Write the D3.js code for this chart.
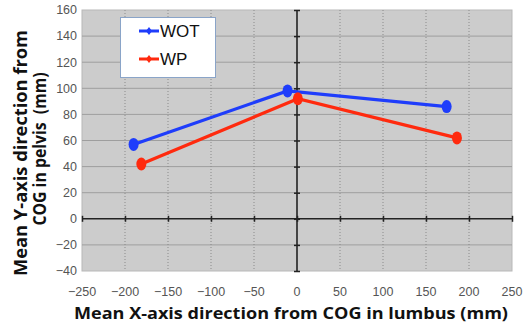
<!DOCTYPE html>
<html><head><meta charset="utf-8">
<script src="https://cdn.jsdelivr.net/npm/d3@7"></script>
<style>body{margin:0;background:#fff}svg{display:block}</style>
</head><body>
<script>
const seriesNames = ["WOT", "WP"];
const seriesColors = ["#1f3dfb", "#ff2a0e"];
const wotX = [-190, -11, 174];
const wotY = [57, 98, 86];
const wpX = [-181, 1, 186];
const wpY = [42, 92, 62];
const xTicks = [-250, -200, -150, -100, -50, 0, 50, 100, 150, 200, 250];
const yTicks = [-40, -20, 0, 20, 40, 60, 80, 100, 120, 140, 160];

const W = 531, H = 323;
const svg = d3.select("body").append("svg").attr("width", W).attr("height", H);
const x = d3.scaleLinear().domain([-250, 250]).range([82, 512]);
const y = d3.scaleLinear().domain([-40, 160]).range([271, 10]);

// plot background
svg.append("rect").attr("x", 82).attr("y", 10).attr("width", 430).attr("height", 261)
  .attr("fill", "#cccccc").attr("stroke", "#b8b8b8").attr("stroke-width", 1);

// horizontal grid
svg.append("g").selectAll("line").data(yTicks.filter(d => d !== 0 && d !== -40 && d !== 160)).join("line")
  .attr("x1", 82).attr("x2", 512).attr("y1", d => y(d)).attr("y2", d => y(d))
  .attr("stroke", "#9e9e9e").attr("stroke-width", 1);
// vertical grid dotted
svg.append("g").selectAll("line").data(xTicks.filter(d => d !== 0 && d !== -250 && d !== 250)).join("line")
  .attr("x1", d => x(d)).attr("x2", d => x(d)).attr("y1", 10).attr("y2", 271)
  .attr("stroke", "#8a8a8a").attr("stroke-width", 1).attr("stroke-dasharray", "1,2");

// axes through zero
const xAxis = d3.axisBottom(x).tickValues(xTicks).tickSize(6).tickFormat("");
const gx = svg.append("g").attr("transform", `translate(0,${y(0)})`).call(xAxis);
gx.select(".domain").remove();
gx.selectAll(".tick line").attr("transform", "translate(0,-3)").attr("stroke", "#222").attr("stroke-width", 1.5);
svg.append("line").attr("x1", 82).attr("x2", 512).attr("y1", y(0)).attr("y2", y(0)).attr("stroke", "#222").attr("stroke-width", 1.6);

const yAxis = d3.axisLeft(y).tickValues(yTicks).tickSize(6).tickFormat("");
const gy = svg.append("g").attr("transform", `translate(${x(0)},0)`).call(yAxis);
gy.select(".domain").remove();
gy.selectAll(".tick line").attr("transform", "translate(3,0)").attr("stroke", "#222").attr("stroke-width", 1.5);
svg.append("line").attr("x1", x(0)).attr("x2", x(0)).attr("y1", 10).attr("y2", 271).attr("stroke", "#222").attr("stroke-width", 1.6);

// tick labels
const fmt = d => d < 0 ? "\u2212" + Math.abs(d) : String(d);
svg.append("g").selectAll("text").data(yTicks).join("text")
  .attr("x", 77).attr("y", d => y(d)).attr("dy", "0.35em").attr("text-anchor", "end")
  .attr("font-family", "Liberation Sans, Arial, sans-serif").attr("font-size", 12.5).attr("fill", "#555")
  .text(fmt);
svg.append("g").selectAll("text").data(xTicks).join("text")
  .attr("x", d => x(d)).attr("y", 296).attr("text-anchor", "middle")
  .attr("font-family", "Liberation Sans, Arial, sans-serif").attr("font-size", 12.5).attr("fill", "#555")
  .text(fmt);

// series
const series = [
  {name: seriesNames[0], color: seriesColors[0], pts: wotX.map((v, i) => [v, wotY[i]])},
  {name: seriesNames[1], color: seriesColors[1], pts: wpX.map((v, i) => [v, wpY[i]])}
];
const line = d3.line().x(d => x(d[0])).y(d => y(d[1]));
series.forEach(s => {
  svg.append("path").datum(s.pts).attr("d", line).attr("fill", "none")
    .attr("stroke", s.color).attr("stroke-width", 3.2);
  svg.append("g").selectAll("ellipse").data(s.pts).join("ellipse")
    .attr("cx", d => x(d[0])).attr("cy", d => y(d[1])).attr("rx", 5).attr("ry", 6.5)
    .attr("fill", s.color);
});

// legend
const lg = svg.append("g");
lg.append("rect").attr("x", 120.5).attr("y", 17.5).attr("width", 95).attr("height", 60)
  .attr("fill", "#fff").attr("stroke", "#8aa4c8").attr("stroke-width", 1);
series.forEach((s, i) => {
  const ly = 31 + i * 28;
  lg.append("line").attr("x1", 139).attr("x2", 159).attr("y1", ly).attr("y2", ly)
    .attr("stroke", s.color).attr("stroke-width", 3);
  lg.append("path").attr("d", `M${149},${ly - 4}L${152},${ly}L${149},${ly + 4}L${146},${ly}Z`).attr("fill", s.color);
  lg.append("text").attr("x", 160).attr("y", ly).attr("dy", "0.36em")
    .attr("font-family", "Liberation Sans, Arial, sans-serif").attr("font-size", 17).attr("fill", "#111")
    .text(s.name);
});

// titles
svg.append("text").attr("x", 291).attr("y", 319).attr("text-anchor", "middle")
  .attr("font-family", "Open Sans, sans-serif").attr("font-weight", "bold").attr("font-size", 16.5)
  .attr("fill", "#111").attr("textLength", 434).attr("lengthAdjust", "spacingAndGlyphs")
  .text("Mean X-axis direction from COG in lumbus (mm)");
const yt = svg.append("text").attr("transform", "translate(0,153) rotate(-90)")
  .attr("text-anchor", "middle").attr("font-family", "Open Sans, sans-serif")
  .attr("font-weight", "bold").attr("font-size", 17).attr("fill", "#111");
yt.append("tspan").attr("x", 0).attr("y", 27).attr("textLength", 246).attr("lengthAdjust", "spacingAndGlyphs")
  .text("Mean Y-axis direction from");
yt.append("tspan").attr("x", 4).attr("y", 46).attr("textLength", 153).attr("lengthAdjust", "spacingAndGlyphs")
  .text("COG in pelvis\u00a0 (mm)");
</script>
</body></html>
